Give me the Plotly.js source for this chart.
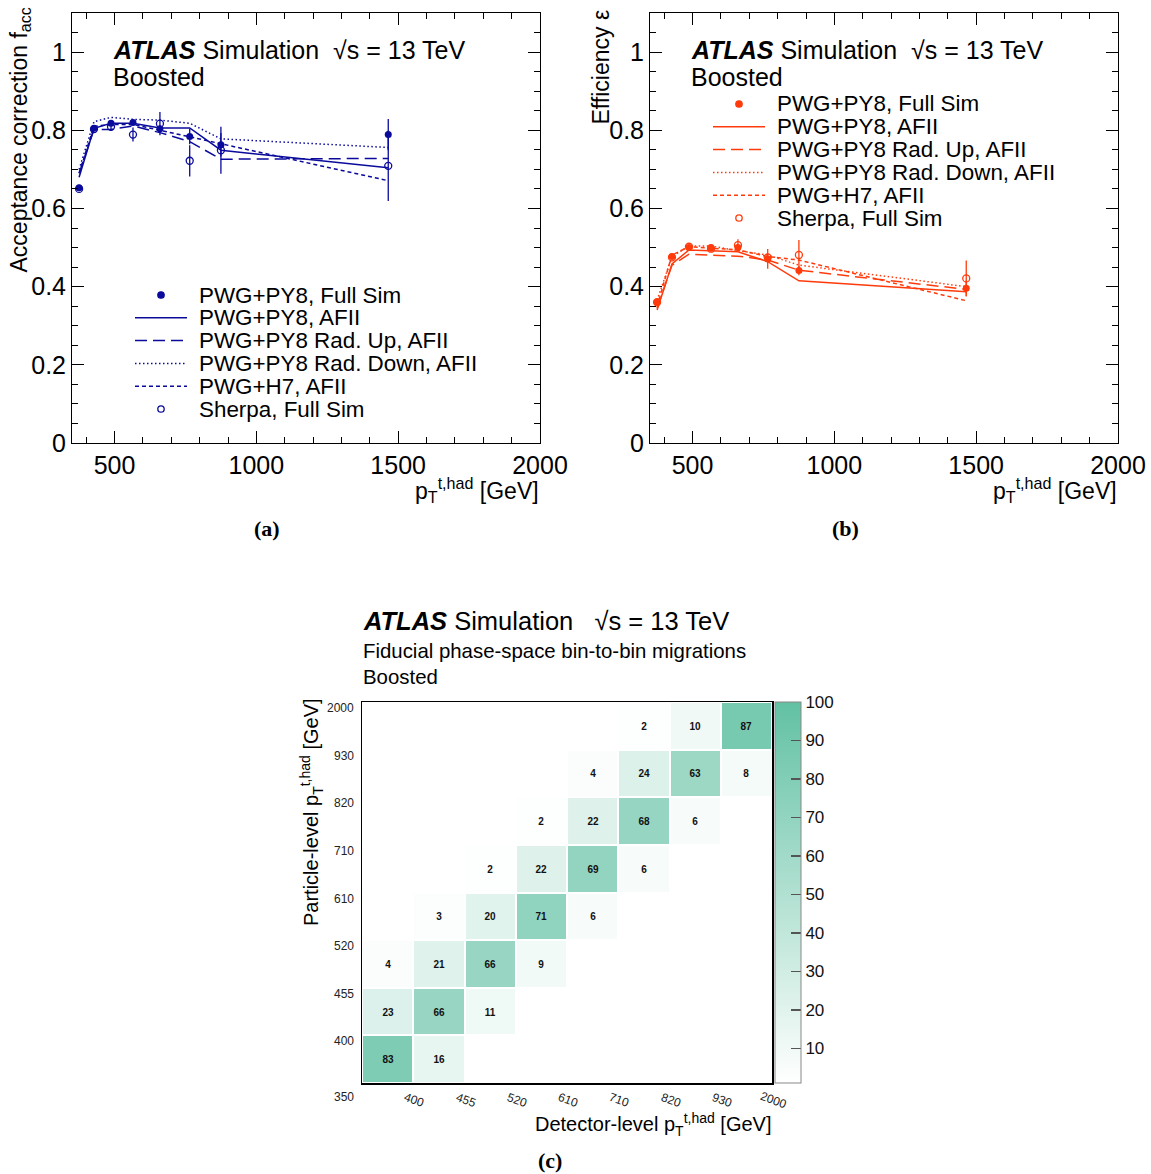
<!DOCTYPE html>
<html>
<head>
<meta charset="utf-8">
<script src="https://cdn.plot.ly/plotly-3.0.1.min.js"></script>
<style>html,body{margin:0;padding:0;background:#fff;}</style>
</head>
<body>
<div id="chart" style="width:1151px;height:1174px;"></div>
<script>
// ---------------- DATA ----------------
const ptCenters = [375, 427.5, 487.5, 565, 660, 765, 875, 1465];

// (a) acceptance correction
const accFullSim     = [0.653, 0.805, 0.818, 0.820, 0.804, 0.784, 0.763, 0.789];
const accFullSimErr  = [0.005, 0.005, 0.005, 0.006, 0.008, 0.020, 0.030, 0.040];
const accAFII        = [0.680, 0.805, 0.818, 0.818, 0.806, 0.806, 0.749, 0.704];
const accRadUp       = [0.690, 0.802, 0.802, 0.811, 0.794, 0.771, 0.726, 0.728];
const accRadDown     = [0.700, 0.822, 0.833, 0.828, 0.826, 0.818, 0.778, 0.756];
const accH7          = [0.690, 0.810, 0.815, 0.815, 0.800, 0.783, 0.766, 0.671];
const accSherpa      = [0.650, 0.803, 0.809, 0.789, 0.817, 0.722, 0.749, 0.709];
const accSherpaErr   = [0.005, 0.005, 0.010, 0.018, 0.030, 0.040, 0.060, 0.090];

// (b) efficiency
const effFullSim     = [0.360, 0.477, 0.500, 0.500, 0.500, 0.471, 0.441, 0.396];
const effFullSimErr  = [0.005, 0.005, 0.005, 0.006, 0.008, 0.025, 0.012, 0.020];
const effAFII        = [0.340, 0.458, 0.494, 0.491, 0.489, 0.464, 0.415, 0.387];
const effRadUp       = [0.345, 0.455, 0.483, 0.481, 0.478, 0.468, 0.442, 0.393];
const effRadDown     = [0.365, 0.477, 0.504, 0.504, 0.492, 0.481, 0.455, 0.400];
const effH7          = [0.350, 0.481, 0.502, 0.498, 0.494, 0.477, 0.468, 0.364];
const effSherpa      = [0.360, 0.475, 0.502, 0.497, 0.506, 0.475, 0.481, 0.421];
const effSherpaErr   = [0.005, 0.005, 0.006, 0.008, 0.015, 0.010, 0.038, 0.046];

const legendNames = ["PWG+PY8, Full Sim", "PWG+PY8, AFII", "PWG+PY8 Rad. Up, AFII",
                     "PWG+PY8 Rad. Down, AFII", "PWG+H7, AFII", "Sherpa, Full Sim"];

// (c) migration matrix [%], rows = particle-level bins (bottom to top), cols = detector-level bins
const binEdgeLabels = ["350", "400", "455", "520", "610", "710", "820", "930", "2000"];
const migrations = [
  [83, 16, null, null, null, null, null, null],
  [23, 66, 11, null, null, null, null, null],
  [4, 21, 66, 9, null, null, null, null],
  [null, 3, 20, 71, 6, null, null, null],
  [null, null, 2, 22, 69, 6, null, null],
  [null, null, null, 2, 22, 68, 6, null],
  [null, null, null, null, 4, 24, 63, 8],
  [null, null, null, null, null, 2, 10, 87]
];
const colorbarTicks = [10, 20, 30, 40, 50, 60, 70, 80, 90, 100];

// ---------------- STYLE ----------------
const W = 1151, H = 1174;
const fx = v => v / W;
const fy = v => 1 - v / H;
const FONT = "Liberation Sans, Arial, Helvetica, sans-serif";
const BLUE = "#0a0a9c";
const ORANGE = "#ff3b0c";
const dashes = ["solid", "12px,6px", "1.5px,2.5px", "4px,3px"];
const lineSeriesA = [accAFII, accRadUp, accRadDown, accH7];
const lineSeriesB = [effAFII, effRadUp, effRadDown, effH7];

const traces = [];
function addPanel(lines, full, fullErr, sher, sherErr, color, xa, ya) {
  lines.forEach((ys, i) => traces.push({
    x: ptCenters, y: ys, xaxis: xa, yaxis: ya, type: "scatter", mode: "lines",
    line: {color: color, width: 1.5, dash: dashes[i]}, showlegend: false, hoverinfo: "skip"
  }));
  traces.push({
    x: ptCenters, y: sher, xaxis: xa, yaxis: ya, type: "scatter", mode: "markers",
    marker: {symbol: "circle-open", size: 7, color: color, line: {width: 1.3, color: color}},
    error_y: {type: "data", array: sherErr, visible: true, thickness: 1.3, width: 0, color: color},
    showlegend: false
  });
  traces.push({
    x: ptCenters, y: full, xaxis: xa, yaxis: ya, type: "scatter", mode: "markers",
    marker: {symbol: "circle", size: 7, color: color},
    error_y: {type: "data", array: fullErr, visible: true, thickness: 1.3, width: 0, color: color},
    showlegend: false
  });
}
addPanel(lineSeriesA, accFullSim, accFullSimErr, accSherpa, accSherpaErr, BLUE, "x", "y");
addPanel(lineSeriesB, effFullSim, effFullSimErr, effSherpa, effSherpaErr, ORANGE, "x2", "y2");

// heatmap
const cellText = migrations.map(r => r.map(v => v == null ? "" : "<b>" + v + "</b>"));
traces.push({
  type: "heatmap", xaxis: "x3", yaxis: "y3",
  z: migrations, x: [0, 1, 2, 3, 4, 5, 6, 7], y: [0, 1, 2, 3, 4, 5, 6, 7],
  text: cellText, texttemplate: "%{text}", textfont: {family: FONT, size: 10, color: "#111"},
  zmin: 1, zmax: 100, xgap: 2, ygap: 2, hoverongaps: false,
  colorscale: [[0, "#ffffff"], [1, "#62c1a3"]],
  colorbar: {
    x: fx(775), xanchor: "left", xpad: 0, y: fy(702), yanchor: "top", ypad: 0,
    lenmode: "pixels", len: 381, thicknessmode: "pixels", thickness: 26,
    tickvals: colorbarTicks, ticks: "inside", ticklen: 10, tickcolor: "#555", tickwidth: 1.5,
    tickfont: {family: FONT, size: 17, color: "#111"},
    outlinecolor: "#888", outlinewidth: 1
  }
});

function plotAxes(dx0, dx1) {
  const common = {
    ticks: "inside", ticklen: 12, tickwidth: 1, tickcolor: "#000",
    showline: true, linecolor: "#000", linewidth: 1, mirror: "allticks",
    showgrid: false, zeroline: false, tickfont: {family: FONT, size: 25, color: "#000"}
  };
  const xa = Object.assign({}, common, {
    domain: [fx(dx0), fx(dx1)], range: [350, 2000], tickvals: [500, 1000, 1500, 2000],
    minor: {dtick: 100, tick0: 0, ticks: "inside", ticklen: 6, tickcolor: "#000", showgrid: false}
  });
  const ya = Object.assign({}, common, {
    domain: [fy(443), fy(13)], range: [0, 1.1], tickvals: [0, 0.2, 0.4, 0.6, 0.8, 1],
    ticktext: ["0", "0.2", "0.4", "0.6", "0.8", "1"],
    minor: {dtick: 0.05, tick0: 0, ticks: "inside", ticklen: 6, tickcolor: "#000", showgrid: false}
  });
  return [xa, ya];
}
const [xA, yA] = plotAxes(72, 540);
const [xB, yB] = plotAxes(650, 1118);
xA.anchor = "y"; yA.anchor = "x";
xB.anchor = "y2"; yB.anchor = "x2";

const heatAxisCommon = {
  range: [-0.5, 7.5], showticklabels: false, ticks: "", showgrid: false, zeroline: false,
  showline: true, linecolor: "#000", linewidth: 1.5, mirror: true
};
const xC = Object.assign({}, heatAxisCommon, {domain: [fx(362), fx(772)], anchor: "y3"});
const yC = Object.assign({}, heatAxisCommon, {domain: [fy(1083), fy(702)], anchor: "x3"});

// ---------------- ANNOTATIONS ----------------
const ann = [];
function txt(text, x, y, size, opts) {
  ann.push(Object.assign({
    text: text, x: x, y: y, xref: "paper", yref: "paper", showarrow: false,
    xanchor: "left", yanchor: "middle", font: {family: FONT, size: size, color: "#000"}
  }, opts || {}));
}
const atlasLine = "<b><i>ATLAS</i></b> Simulation  √s = 13 TeV";
txt(atlasLine, fx(111), fy(50), 25);
txt("Boosted", fx(111), fy(77), 25);
txt(atlasLine, fx(689), fy(50), 25);
txt("Boosted", fx(689), fy(77), 25);
txt("Acceptance correction f<sub>acc</sub>", fx(20), fy(6), 23, {xanchor: "center", yanchor: "top", textangle: -90});
txt("Efficiency ε", fx(600), fy(8), 23, {xanchor: "center", yanchor: "top", textangle: -90});
txt("p<sub>T</sub><sup>t,had</sup> [GeV]", fx(541), fy(490), 23, {xanchor: "right"});
txt("p<sub>T</sub><sup>t,had</sup> [GeV]", fx(1119), fy(490), 23, {xanchor: "right"});
const serif = {family: "Liberation Serif, Times New Roman, serif", size: 22, color: "#000"};
txt("<b>(a)</b>", fx(267), fy(528), 22, {xanchor: "center", font: serif});
txt("<b>(b)</b>", fx(845), fy(528), 22, {xanchor: "center", font: serif});
txt("<b>(c)</b>", fx(550), fy(1160), 22, {xanchor: "center", font: serif});

// panel (c) texts
txt("<b><i>ATLAS</i></b> Simulation   √s = 13 TeV", fx(361), fy(621), 25.5);
txt("Fiducial phase-space bin-to-bin migrations", fx(361), fy(651), 20.4);
txt("Boosted", fx(361), fy(677), 20.4);
txt("Particle-level p<sub>T</sub><sup>t,had</sup> [GeV]", fx(311), fy(696), 20, {xanchor: "center", yanchor: "top", textangle: -90});
txt("Detector-level p<sub>T</sub><sup>t,had</sup> [GeV]", fx(773), fy(1124), 20, {xanchor: "right"});

// heatmap edge labels
binEdgeLabels.forEach((lab, i) => {
  ann.push({
    text: lab, xref: "paper", yref: "y3", x: fx(356), y: i - 0.5, yshift: i === 0 ? -14 : -6,
    showarrow: false, xanchor: "right", yanchor: "middle",
    font: {family: FONT, size: 12, color: "#222"}
  });
  if (i > 0) {
    ann.push({
      text: lab, xref: "x3", yref: "paper", x: i - 0.5, y: fy(1100), xshift: 1,
      showarrow: false, xanchor: "center", yanchor: "middle", textangle: 20,
      font: {family: FONT, size: 12, color: "#222"}
    });
  }
});

// ---------------- LEGENDS (drawn as keys + text) ----------------
const shapes = [];
function legendBlock(x0, x1, xText, yTop, color) {
  const xm = (x0 + x1) / 2;
  legendNames.forEach((name, i) => {
    const yy = yTop + i * 22.8;
    txt(name, fx(xText), fy(yy), 22.4);
    if (i === 0 || i === 5) {
      shapes.push({
        type: "circle", xref: "paper", yref: "paper",
        x0: fx(xm - 3.2), x1: fx(xm + 3.2), y0: fy(yy + 3.2), y1: fy(yy - 3.2),
        fillcolor: i === 0 ? color : "#fff", line: {color: color, width: 1.3}
      });
    } else {
      shapes.push({
        type: "line", xref: "paper", yref: "paper",
        x0: fx(x0), x1: fx(x1), y0: fy(yy), y1: fy(yy),
        line: {color: color, width: 1.5, dash: dashes[i - 1]}
      });
    }
  });
}
legendBlock(135, 187, 197, 295, BLUE);
legendBlock(713, 765, 775, 104, ORANGE);

const layout = {
  width: W, height: H, margin: {l: 0, r: 0, t: 0, b: 0},
  paper_bgcolor: "#fff", plot_bgcolor: "#fff", showlegend: false,
  font: {family: FONT, color: "#000"},
  xaxis: xA, yaxis: yA, xaxis2: xB, yaxis2: yB, xaxis3: xC, yaxis3: yC,
  annotations: ann, shapes: shapes
};
Plotly.newPlot("chart", traces, layout, {displayModeBar: false, staticPlot: true});
</script>
</body>
</html>
